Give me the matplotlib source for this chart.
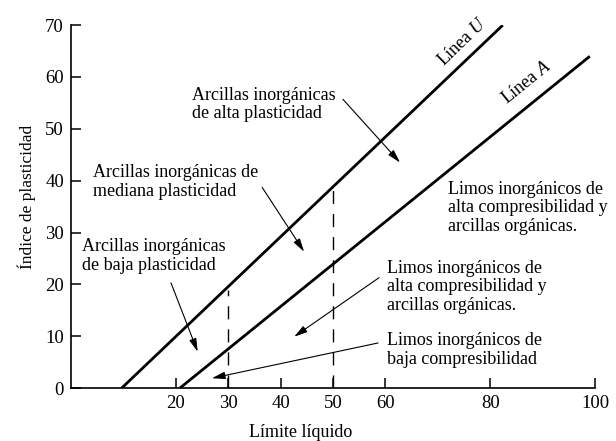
import numpy as np
import matplotlib
matplotlib.use("Agg")
import matplotlib.pyplot as plt

plt.rcParams["font.family"] = ["Liberation Serif", "DejaVu Serif"]
plt.rcParams["mathtext.fontset"] = "custom"
plt.rcParams["mathtext.it"] = "Liberation Serif:italic"
plt.rcParams["mathtext.rm"] = "Liberation Serif"

# datos de la carta de plasticidad
linea_u_ll = [9.7, 82.4]
linea_u_ip = [0.0, 70.0]
linea_a_ll = [20.8, 99.0]
linea_a_ip = [0.0, 64.0]
cortes_ll = [30, 50]
cortes_ip = [19.0, 39.3]
xticks = [20, 30, 40, 50, 60, 80, 100]
yticks = [0, 10, 20, 30, 40, 50, 60, 70]

zonas = [
    "Arcillas inorgánicas\nde alta plasticidad",
    "Arcillas inorgánicas de\nmediana plasticidad",
    "Arcillas inorgánicas\nde baja plasticidad",
    "Limos inorgánicos de\nalta compresibilidad y\narcillas orgánicas.",
    "Limos inorgánicos de\nalta compresibilidad y\narcillas orgánicas.",
    "Limos inorgánicos de\nbaja compresibilidad",
]

fig = plt.figure(figsize=(6.16, 4.41), dpi=100)
ax = fig.add_axes([0.115, 0.120, 0.851, 0.823])

ax.plot(linea_u_ll, linea_u_ip, color="black", lw=2.0, solid_capstyle="butt")
ax.plot(linea_a_ll, linea_a_ip, color="black", lw=2.0, solid_capstyle="butt")
for x, y in zip(cortes_ll, cortes_ip):
    ax.plot([x, x], [0, y], color="black", lw=1.0, dashes=(9.4, 7.2))

ax.set_xlim(0, 100)
ax.set_ylim(0, 70)
ax.set_xticks(xticks)
ax.set_yticks(yticks)
ax.tick_params(direction="in", length=7, width=1.1, labelsize=13.5, pad=5)
for s in ["top", "right"]:
    ax.spines[s].set_visible(False)
for s in ["left", "bottom"]:
    ax.spines[s].set_linewidth(1.2)

ax.set_xlabel("Límite líquido", fontsize=13, va="center")
ax.xaxis.set_label_coords(0.439, -0.122)
ax.set_ylabel("Índice de plasticidad", fontsize=12.5, va="center")
ax.yaxis.set_label_coords(-0.084, 0.528)

ax.text(74.8, 66.7, "Línea $U$", rotation=44, fontsize=13, ha="center", va="center")
ax.text(87.0, 59.0, "Línea $A$", rotation=39, fontsize=13, ha="center", va="center")

arrow = dict(arrowstyle="-|>,head_length=0.8,head_width=0.22", color="black", lw=0.8,
             shrinkA=0, shrinkB=0)
fs = 13
ls = 1.12
ax.text(23.1, 54.7, zonas[0], fontsize=fs, va="center", ha="left", linespacing=ls)
ax.annotate("", xy=(62.8, 43.5), xytext=(51.9, 55.7), arrowprops=arrow)

ax.text(4.2, 39.7, zonas[1], fontsize=fs, va="center", ha="left", linespacing=ls)
ax.annotate("", xy=(44.5, 26.3), xytext=(36.5, 38.7), arrowprops=arrow)

ax.text(2.1, 25.5, zonas[2], fontsize=fs, va="center", ha="left", linespacing=ls)
ax.annotate("", xy=(24.2, 7.0), xytext=(19.1, 20.3), arrowprops=arrow)

ax.text(71.9, 34.8, zonas[3], fontsize=fs, va="center", ha="left", linespacing=ls)

ax.text(60.3, 19.5, zonas[4], fontsize=fs, va="center", ha="left", linespacing=ls)
ax.annotate("", xy=(42.6, 9.9), xytext=(58.8, 21.3), arrowprops=arrow)

ax.text(60.3, 7.35, zonas[5], fontsize=fs, va="center", ha="left", linespacing=ls)
ax.annotate("", xy=(26.9, 1.9), xytext=(58.6, 8.7), arrowprops=arrow)

fig.savefig("out.png", dpi=100)
